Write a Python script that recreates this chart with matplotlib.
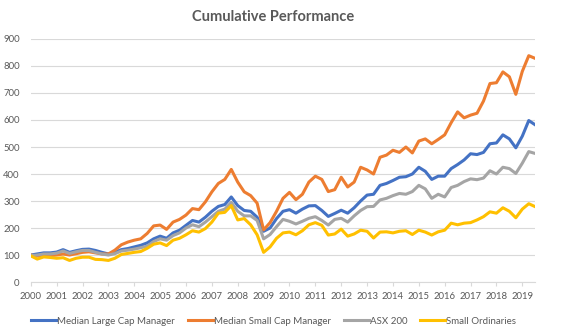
import matplotlib
matplotlib.use("Agg")
import matplotlib.pyplot as plt
import numpy as np

# quarterly points, 2000.00 .. 2019.50
dates = np.arange(79) * 0.25 + 2000

large_cap = [100, 104, 108, 108, 111, 120, 110, 116, 121, 122, 117, 110,
             104, 110, 120, 124, 130, 136, 145, 160, 170, 162, 182, 192,
             210, 228, 222, 240, 262, 280, 287, 315, 283, 265, 262, 240,
             188, 200, 235, 262, 268, 255, 270, 282, 283, 265, 243, 254,
             266, 255, 275, 300, 322, 325, 358, 365, 376, 388, 390, 400,
             425, 410, 380, 392, 392, 420, 435, 452, 475, 472, 480, 512,
             515, 545, 530, 497, 540, 598, 582]

small_cap = [100, 96, 100, 98, 100, 104, 100, 105, 110, 112, 108, 104,
             104, 118, 138, 148, 155, 160, 180, 208, 211, 195, 222, 232,
             248, 272, 268, 297, 334, 365, 380, 417, 370, 334, 320, 292,
             193, 220, 262, 310, 332, 305, 325, 370, 392, 380, 335, 342,
             388, 352, 370, 425, 415, 400, 462, 470, 488, 480, 500, 478,
             522, 530, 512, 528, 545, 590, 630, 608, 618, 625, 670, 735,
             738, 778, 760, 695, 780, 838, 828]

asx200 = [98, 100, 104, 104, 107, 115, 106, 112, 117, 117, 110, 104,
          100, 105, 115, 118, 122, 127, 133, 150, 160, 155, 172, 182,
          200, 212, 205, 222, 242, 262, 270, 295, 262, 245, 245, 228,
          160, 176, 205, 232, 225, 215, 225, 236, 242, 228, 211, 232,
          236, 222, 245, 265, 279, 280, 304, 310, 320, 328, 325, 335,
          358, 345, 310, 325, 315, 350, 358, 372, 382, 379, 385, 412,
          400, 425, 420, 402, 440, 483, 476]

small_ords = [97, 85, 93, 91, 88, 90, 80, 88, 92, 92, 84, 83,
              80, 88, 102, 106, 110, 113, 125, 140, 145, 135, 155, 162,
              175, 190, 185, 198, 222, 255, 258, 283, 230, 235, 212, 175,
              110, 130, 162, 182, 185, 175, 190, 212, 220, 210, 174, 178,
              196, 170, 178, 192, 188, 163, 185, 186, 182, 188, 190, 176,
              192, 185, 174, 186, 192, 218, 212, 218, 220, 230, 242, 260,
              255, 275, 262, 238, 270, 290, 279]

years = list(range(2000, 2020))

plt.rcParams["font.family"] = ["Lato", "DejaVu Sans"]
txt = "#595959"
grid = "#D9D9D9"

fig = plt.figure(figsize=(5.7, 3.33), dpi=100)
ax = fig.add_axes([0.054, 0.153, 0.885, 0.73])

ax.plot(dates, large_cap, color="#4472C4", lw=2.2, label="Median Large Cap Manager")
ax.plot(dates, small_cap, color="#ED7D31", lw=2.2, label="Median Small Cap Manager")
ax.plot(dates, asx200, color="#A5A5A5", lw=2.2, label="ASX 200")
ax.plot(dates, small_ords, color="#FFC000", lw=2.2, label="Small Ordinaries")

ax.set_xlim(2000, 2019.5)
ax.set_ylim(0, 900)
ax.set_yticks(range(0, 901, 100))
ax.set_xticks(years)
ax.set_xticklabels([str(y) for y in years])
ax.grid(axis="y", color=grid, lw=0.8)
ax.set_axisbelow(True)
for s in ["top", "right", "left"]:
    ax.spines[s].set_visible(False)
ax.spines["bottom"].set_color(grid)
ax.tick_params(axis="y", length=0, labelsize=6.8, labelcolor=txt, pad=8)
ax.tick_params(axis="x", length=3, color=grid, labelsize=6.8, labelcolor=txt, pad=4)

fig.text(0.48, 0.95, "Cumulative Performance", ha="center", va="center",
         fontsize=10.5, fontweight="bold", color=txt)

fig.legend(loc="center", bbox_to_anchor=(0.48, 0.035), ncol=4, frameon=False,
           fontsize=7, handlelength=2.6, handletextpad=0.1, columnspacing=1.3,
           labelcolor=txt)

fig.savefig("out.png", dpi=100)
